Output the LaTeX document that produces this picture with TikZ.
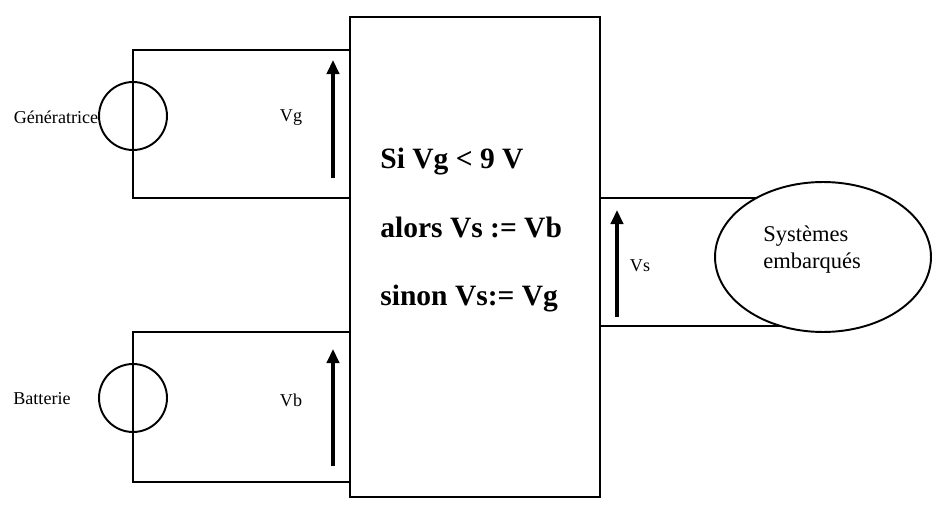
\documentclass[tikz,border=0pt]{standalone}
\usepackage{fontspec}
\setmainfont{Liberation Serif}
\usetikzlibrary{arrows.meta,shapes.geometric}
\tikzset{
  wire/.style={line width=1.1pt},
  source/.style={draw,circle,line width=1.1pt,minimum size=1.36cm,inner sep=0pt},
  volt/.style={line width=1.9pt,-{Triangle[width=7pt,length=8pt]}},
  small/.style={font=\fontsize{10.3}{12}\selectfont,inner sep=0pt},
  rule/.style={font=\fontsize{16.8}{20}\selectfont\bfseries,anchor=base west,inner sep=0pt},
}
\begin{document}
\begin{tikzpicture}[x=0.02cm,y=-0.02cm]
\useasboundingbox (0,0) rectangle (940,517);
\node[draw,wire,minimum width=5cm,minimum height=9.6cm,inner sep=0pt] (box) at (475,257) {};
\node[source] (gen) at (133,116) {};
\node[source] (bat) at (133,398) {};
\coordinate (gtop) at (350,50);
\coordinate (gbot) at (350,198);
\coordinate (btop) at (350,332);
\coordinate (bbot) at (350,482);
\coordinate (stop) at (600,198);
\coordinate (sbot) at (600,326);
\coordinate (stopend) at (770,198);
\coordinate (sbotend) at (790,326);
\draw[wire](gtop)-|(gen.north)--(gen.south)|-(gbot);
\draw[wire](btop)-|(bat.north)--(bat.south)|-(bbot);
\draw[wire](stop)--(stopend);
\draw[wire](sbot)--(sbotend);
\node[ellipse,draw,wire,fill=white,minimum width=4.32cm,minimum height=3cm,inner sep=0pt] (load) at (823,257) {};
\coordinate (gfoot) at (333,178);
\coordinate (ghead) at (333,60);
\coordinate (bfoot) at (333,466);
\coordinate (bhead) at (333,349);
\coordinate (sfoot) at (617,317);
\coordinate (shead) at (617,210);
\draw[volt](gfoot)--(ghead);
\draw[volt](bfoot)--(bhead);
\draw[volt](sfoot)--(shead);
\node[small] (gname) at (56,117) {Génératrice};
\node[small] (bname) at (42,399) {Batterie};
\node[small] (vg) at (291,118) {Vg};
\node[small] (vb) at (291,400) {Vb};
\node[small] (vs) at (640,266) {Vs};
\node[rule] (si) at (380,169) {Si Vg < 9 V};
\node[rule] (alors) at (380,237) {alors Vs := Vb};
\node[rule] (sinon) at (380,305) {sinon Vs:= Vg};
\node[align=left,anchor=west,inner sep=0pt,font=\fontsize{12.8}{15.3}\selectfont] (loadname) at (763,250) {Systèmes\\embarqués};
\end{tikzpicture}
\end{document}
